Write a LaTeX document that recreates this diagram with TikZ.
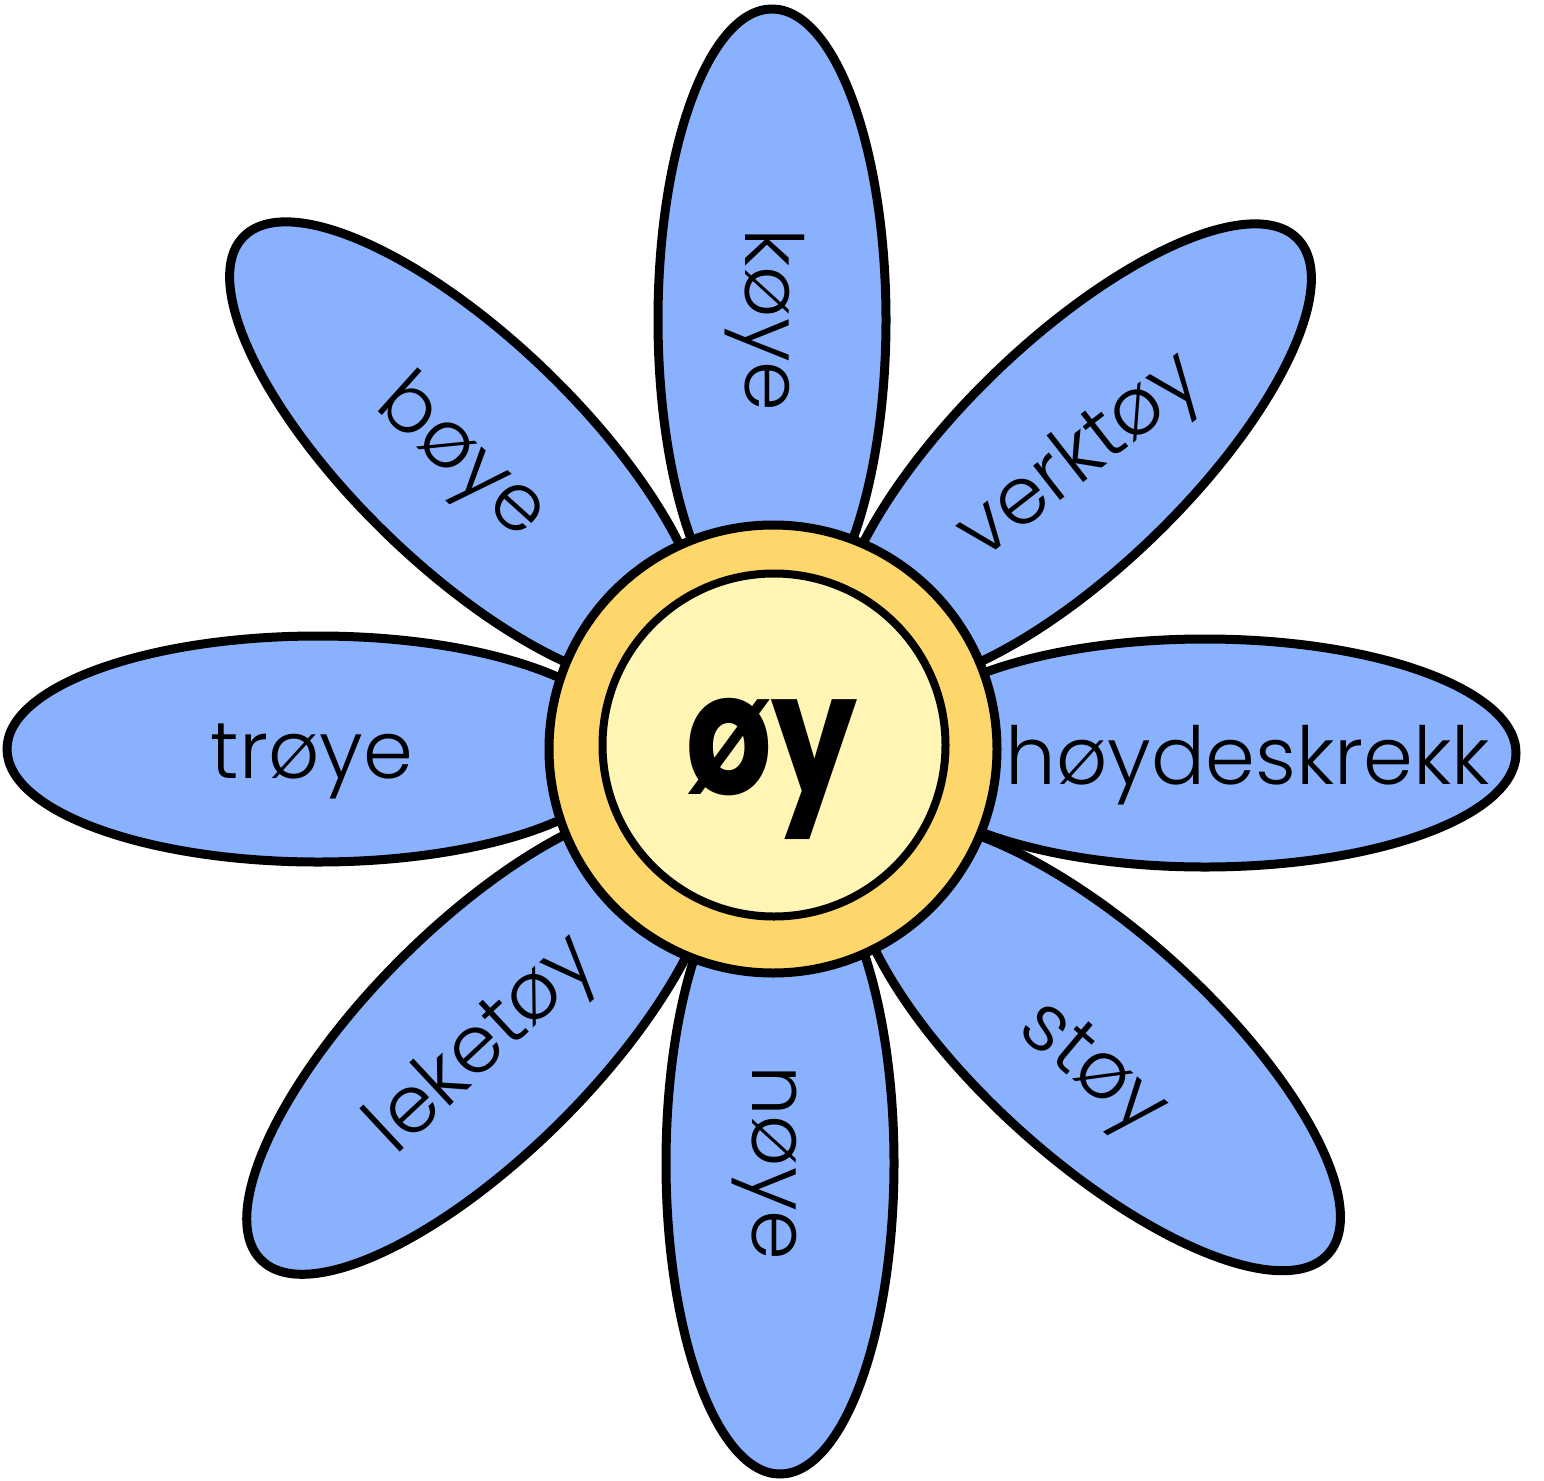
\documentclass[tikz,border=0pt]{standalone}
\usepackage{fontspec}
\newfontfamily\petalfont{Poppins}[UprightFont={* Light}]
\newfontfamily\centerfont{Poppins}[UprightFont={* Bold}]
\definecolor{petalblue}{RGB}{138,177,254}
\definecolor{ringyellow}{RGB}{253,215,107}
\definecolor{coreyellow}{RGB}{255,245,180}
\tikzset{
  petal/.style={draw=black, line width=9pt, fill=petalblue},
  ring/.style={draw=black, line width=9pt, fill=ringyellow},
  core/.style={draw=black, line width=8pt, fill=coreyellow},
  word/.style={font=\petalfont\fontsize{80}{80}\selectfont, inner sep=0pt, text height=44pt, text depth=0pt},
}
\begin{document}
\begin{tikzpicture}[x=1pt,y=-1pt]
\useasboundingbox (0,0) rectangle (1544,1480);
% petals
\coordinate (pT) at (772,320);
\coordinate (pB) at (780,1163);
\coordinate (pL) at (318,749);
\coordinate (pR) at (1205,753);
\coordinate (pUL) at (467,453);
\coordinate (pUR) at (1074,455);
\coordinate (pLL) at (481,1040);
\coordinate (pLR) at (1097,1046);
\draw[petal, rotate around={90:(pT)}] (pT) ellipse [x radius=311pt, y radius=114pt];
\draw[petal, rotate around={90:(pB)}] (pB) ellipse [x radius=311pt, y radius=114pt];
\draw[petal] (pL) ellipse [x radius=311pt, y radius=113pt];
\draw[petal] (pR) ellipse [x radius=311pt, y radius=114pt];
\draw[petal, rotate around={-44:(pUL)}] (pUL) ellipse [x radius=311pt, y radius=114pt];
\draw[petal, rotate around={44:(pUR)}] (pUR) ellipse [x radius=311pt, y radius=114pt];
\draw[petal, rotate around={45:(pLL)}] (pLL) ellipse [x radius=311pt, y radius=114pt];
\draw[petal, rotate around={-42:(pLR)}] (pLR) ellipse [x radius=311pt, y radius=114pt];
% centre
\node[ring, circle, minimum size=448pt, inner sep=0pt] (ring) at (773,749) {};
\node[core, circle, minimum size=343pt, inner sep=0pt] (core) at (774,745) {};
\node[font=\centerfont\fontsize{170}{170}\selectfont, inner sep=0pt, text height=93pt, text depth=0pt] (oy) at (772,748) {\scalebox{0.8}[1]{øy}};
% words
\node[word, rotate=-90] (w1) at (767,320) {køye};
\node[word, rotate=-42] (w2) at (462,458) {bøye};
\node[word, rotate=38] (w3) at (1080,457) {verktøy};
\node[word] (w4) at (312,756) {trøye};
\node[word] (w5) at (1248,762) {høydeskrekk};
\node[word, rotate=43] (w6) at (483,1045) {leketøy};
\node[word, rotate=-90] (w7) at (774,1163) {nøye};
\node[word, rotate=-40] (w8) at (1093,1068) {støy};
\end{tikzpicture}
\end{document}
